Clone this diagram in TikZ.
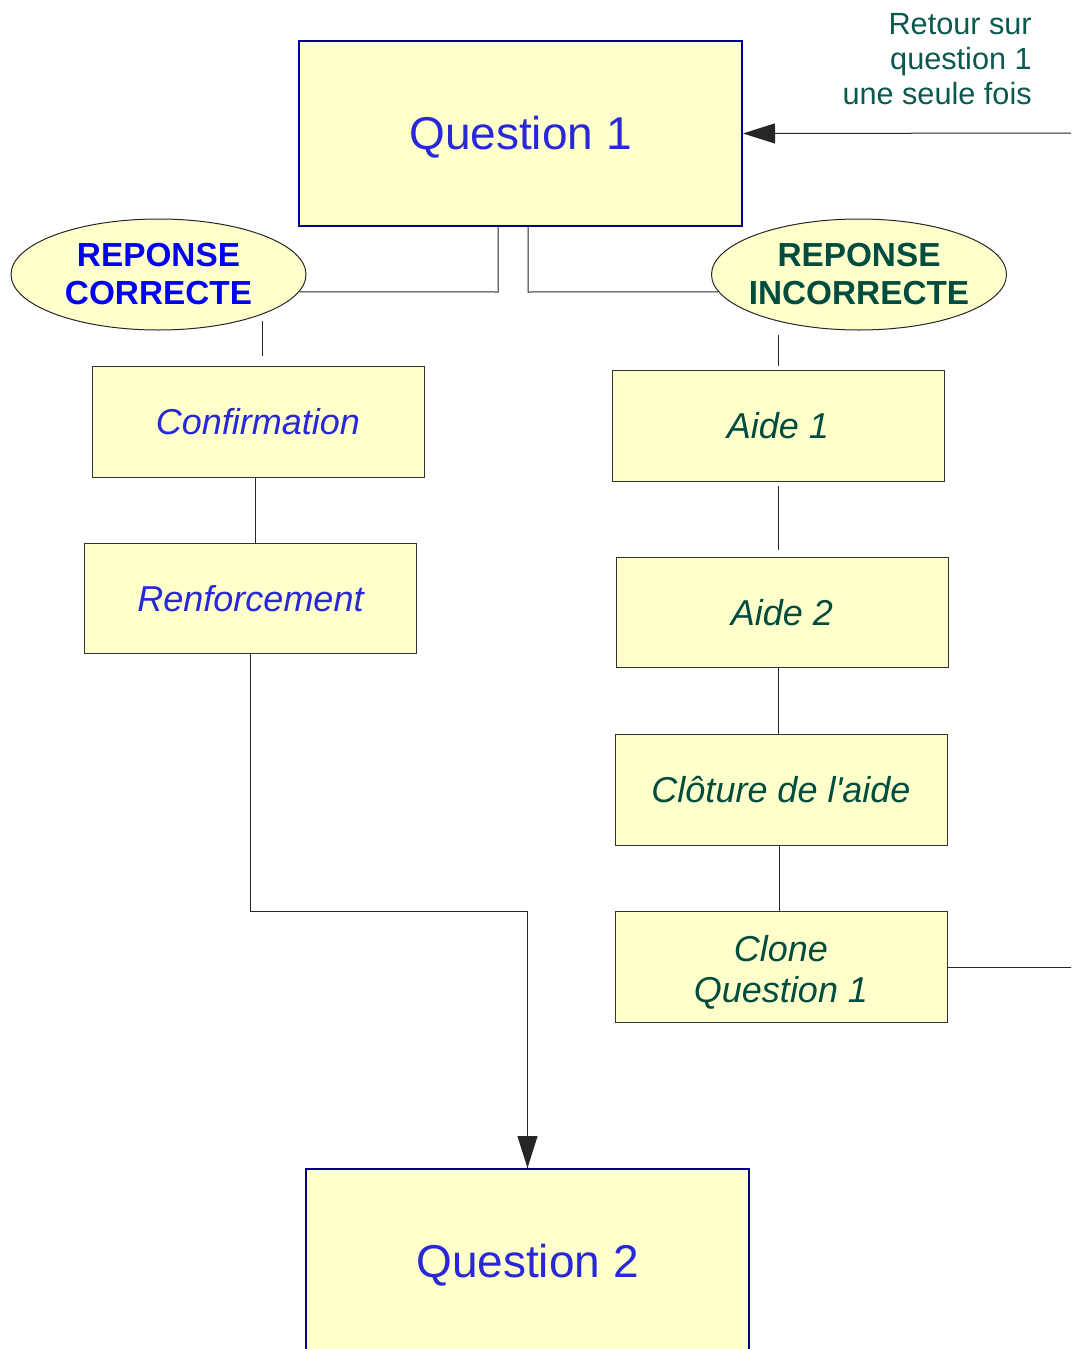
\documentclass[tikz,border=0pt]{standalone}
\usepackage{fontspec}
\setmainfont{Liberation Sans}[Ligatures=TeXOff]
\usetikzlibrary{arrows.meta,shapes.geometric}
\definecolor{boxfill}{RGB}{255,255,204}
\definecolor{navyline}{RGB}{0,0,140}
\definecolor{qblue}{RGB}{40,40,215}
\definecolor{rblue}{RGB}{0,0,245}
\definecolor{dgreen}{RGB}{0,77,64}
\definecolor{tgreen}{RGB}{10,88,78}
\tikzset{
  bigq/.style={draw=navyline,line width=1.5pt,fill=boxfill,inner sep=0pt,
    minimum width=332.25pt,minimum height=138.75pt,text=qblue,
    text height=25.5pt,text depth=1pt,
    font=\fontsize{34.5pt}{40pt}\selectfont},
  smallbox/.style={draw=black!80,line width=0.75pt,fill=boxfill,inner sep=0pt,
    minimum width=249pt,minimum height=83pt,align=center,
    font=\itshape\fontsize{27pt}{31pt}\selectfont},
  answer/.style={ellipse,draw=black!85,line width=0.75pt,fill=boxfill,
    inner xsep=-8pt,inner ysep=0pt,
    minimum width=221.25pt,minimum height=83.25pt,align=center,
    font=\bfseries\fontsize{25pt}{28.5pt}\selectfont},
  conn/.style={draw=black!85,line width=0.75pt},
  tip/.style={-{Triangle[length=24pt,width=15pt]}}
}
\begin{document}
\begin{tikzpicture}[x=0.75pt,y=-0.75pt]
\useasboundingbox (0,0) rectangle (1071,1349);
\clip (0,0) rectangle (1071,1349);
% nodes
\node[bigq] (q1) at (520.5,133.5) {Question 1};
\node[bigq] (q2) at (527.5,1261.5) {Question 2};
\node[answer,text=rblue] (cl) at (158.5,274.5) {REPONSE\\CORRECTE};
\node[answer,text=dgreen] (cr) at (859,274.5) {REPONSE\\INCORRECTE};
\node[smallbox,text=qblue] (conf) at (258,422) {Confirmation};
\node[smallbox,text=qblue] (renf) at (250.5,598.5) {Renforcement};
\node[smallbox,text=dgreen] (a1) at (778,426) {Aide 1};
\node[smallbox,text=dgreen] (a2) at (782,612.5) {Aide 2};
\node[smallbox,text=dgreen] (clo) at (781,790) {Clôture de l'aide};
\node[smallbox,text=dgreen,font=\itshape\fontsize{27pt}{30.75pt}\selectfont,
  text height=55pt,text depth=2pt] (clone) at (781,967) {Clone\\Question 1};
\node[anchor=east,align=right,text=tgreen,inner sep=0pt,
  font=\fontsize{23pt}{26.25pt}\selectfont] (ret) at (1032,59) {Retour sur\\question 1\\une seule fois};
% helper coordinates
\coordinate (ln) at (498,292);
\coordinate (rn) at (528,292);
\coordinate (rt) at (1077,967);
\coordinate (rtop) at (1077,133);
\coordinate (down) at (250,911);
% connectors
\draw[conn] (q1.south -| ln) -- (ln) -- (cl.-7);
\draw[conn] (q1.south -| rn) -- (rn) -- (cr.187);
\draw[conn] ([shift={(4,-45)}]conf.north) -- ([shift={(4,-10)}]conf.north);
\draw[conn] ([xshift=-2.25pt]conf.south) -- ([xshift=-2.25pt]conf.south |- renf.north);
\draw[conn] (renf.south -| down) -- (down) -| (q2.north);
\draw[conn,tip] (down -| q2.north) -- (q2.north);
\draw[conn] ([yshift=26.25pt]a1.north) -- ([yshift=3pt]a1.north);
\draw[conn] ([yshift=-3pt]a1.south) -- ([shift={(0,-7)}]a1.south |- a2.north);
\draw[conn] ([xshift=-3pt]a2.south) -- ([xshift=-3pt]a2.south |- clo.north);
\draw[conn] ([xshift=-1.5pt]clo.south) -- ([xshift=-1.5pt]clo.south |- clone.north);
\draw[conn] (clone.east) -- (rt) -- (rtop);
\draw[conn,tip] (rtop) -- (q1.east);
\end{tikzpicture}
\end{document}
